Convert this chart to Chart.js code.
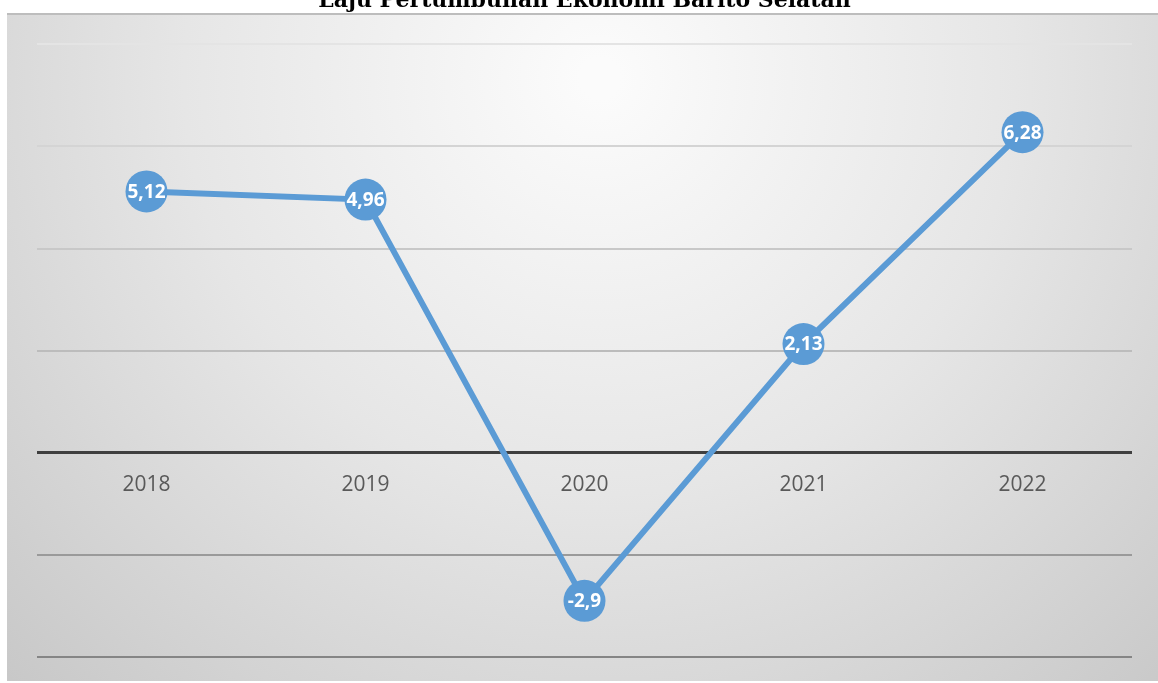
<!DOCTYPE html>
<html>
<head>
<meta charset="utf-8">
<script src="https://cdn.jsdelivr.net/npm/chart.js@4.4.0/dist/chart.umd.min.js"></script>
<style>
  html, body { margin: 0; padding: 0; background: #ffffff; overflow: hidden; }
  #wrap { position: absolute; left: 0; top: -12px; width: 1158px; height: 695px; }
</style>
</head>
<body>
<div id="wrap"><canvas id="chart" width="1158" height="695"></canvas></div>
<script>
  // data
  const years = ["2018", "2019", "2020", "2021", "2022"];
  const growth = [5.12, 4.96, -2.9, 2.13, 6.28];
  const titleText = "Laju Pertumbuhan Ekonomi Barito Selatan";

  // gradient panel behind the plot
  const panelBg = {
    id: "panelBg",
    beforeDraw(chart) {
      const ctx = chart.ctx;
      const x0 = 7, y0 = 25, x1 = chart.width, y1 = 693;
      ctx.save();
      const g = ctx.createRadialGradient(600, 90, 20, 600, 90, 900);
      g.addColorStop(0, "#fbfbfb");
      g.addColorStop(0.45, "#e6e6e6");
      g.addColorStop(1, "#c4c4c4");
      ctx.fillStyle = g;
      ctx.fillRect(x0, y0, x1 - x0, y1 - y0);
      ctx.strokeStyle = "#bdbdbd";
      ctx.lineWidth = 2;
      ctx.beginPath();
      ctx.moveTo(x0, y0 + 1);
      ctx.lineTo(x1, y0 + 1);
      ctx.stroke();
      ctx.restore();
    }
  };

  // value labels inside the markers
  const pointLabels = {
    id: "pointLabels",
    afterDatasetsDraw(chart) {
      const ctx = chart.ctx;
      const meta = chart.getDatasetMeta(0);
      ctx.save();
      ctx.font = "bold 19px 'Open Sans', sans-serif";
      ctx.fillStyle = "#ffffff";
      ctx.textAlign = "center";
      ctx.textBaseline = "middle";
      meta.data.forEach((pt, i) => {
        const txt = String(growth[i]).replace(".", ",");
        ctx.fillText(txt, pt.x, pt.y + 1);
      });
      ctx.restore();
    }
  };

  const gridColors = { "8": "#e4e4e4", "6": "#d4d4d4", "4": "#c8c8c8", "2": "#bcbcbc", "0": "#3f3f3f", "-2": "#9a9a9a", "-4": "#858585" };

  new Chart(document.getElementById("chart"), {
    type: "line",
    data: {
      labels: years,
      datasets: [{
        data: growth,
        borderColor: "#5b9bd5",
        backgroundColor: "#5b9bd5",
        borderWidth: 6,
        pointRadius: 21,
        pointHoverRadius: 21,
        pointBackgroundColor: "#5b9bd5",
        pointBorderWidth: 0,
        tension: 0
      }]
    },
    options: {
      responsive: false,
      animation: false,
      layout: { padding: { left: 37, right: 26, top: 0, bottom: 26 } },
      plugins: {
        legend: { display: false },
        tooltip: { enabled: false },
        title: {
          display: true,
          text: titleText,
          color: "#000000",
          font: { family: "'DejaVu Serif', serif", size: 22, weight: "bold" },
          padding: { top: 0, bottom: 30 }
        }
      },
      scales: {
        x: {
          position: { y: 0 },
          offset: true,
          grid: { display: false },
          border: { display: false },
          ticks: {
            color: "#595959",
            font: { family: "'Open Sans', sans-serif", size: 21 },
            padding: 12
          }
        },
        y: {
          min: -4,
          max: 8,
          ticks: { display: false, stepSize: 2 },
          border: { display: false },
          grid: {
            drawTicks: false,
            color: c => gridColors[String(c.tick.value)] || "#bbbbbb",
            lineWidth: c => c.tick.value === 0 ? 3 : 2
          }
        }
      }
    },
    plugins: [panelBg, pointLabels]
  });
</script>
</body>
</html>
